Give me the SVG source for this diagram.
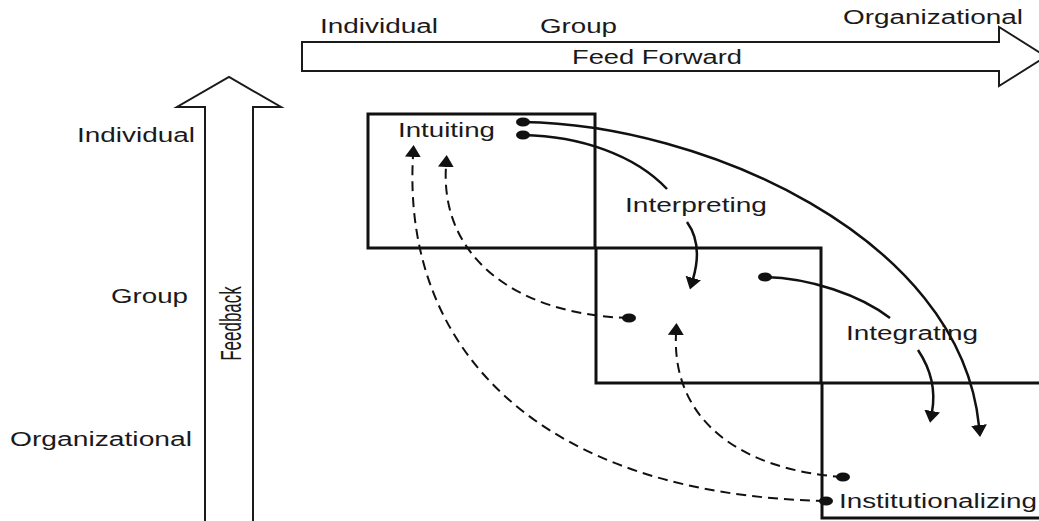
<svg xmlns="http://www.w3.org/2000/svg" width="1039" height="521" viewBox="0 0 1039 521">
  <style>
    .lbl { font-family: "Liberation Sans", Arial, sans-serif; font-size: 19.5px; fill: #1a1a1a; }
    .big { fill: #ffffff; stroke: #1a1a1a; stroke-width: 2; stroke-linejoin: miter; }
    .box { fill: none; stroke: #111111; stroke-width: 3; }
    .flow { fill: none; stroke: #111111; stroke-width: 2.5; }
    .back { fill: none; stroke: #111111; stroke-width: 2; stroke-dasharray: 10 6; }
  </style>
  <defs>
    <marker id="head" viewBox="0 0 12 16" refX="1" refY="8" markerWidth="12" markerHeight="16" markerUnits="userSpaceOnUse" orient="auto">
      <path d="M0,0 L12,8 L0,16 Z" fill="#111111"/>
    </marker>
    <marker id="dot" viewBox="-8 -5 16 10" refX="0" refY="0" markerWidth="16" markerHeight="10" markerUnits="userSpaceOnUse">
      <ellipse cx="0" cy="0" rx="7" ry="4.5" fill="#111111"/>
    </marker>
  </defs>

  <rect width="1039" height="521" fill="#ffffff"/>

  <!-- level axes -->
  <g id="feed-forward">
    <polygon class="big" points="302,42 999,42 999,27 1046,56.5 999,86 999,71 302,71"/>
    <text class="lbl" x="572" y="64" textLength="170" lengthAdjust="spacingAndGlyphs">Feed Forward</text>
    <text class="lbl" x="320" y="33" textLength="118" lengthAdjust="spacingAndGlyphs">Individual</text>
    <text class="lbl" x="540" y="33" textLength="77" lengthAdjust="spacingAndGlyphs">Group</text>
    <text class="lbl" x="843" y="24" textLength="180" lengthAdjust="spacingAndGlyphs">Organizational</text>
  </g>

  <g id="feedback">
    <polygon class="big" points="205,530 205,107 177,107 229,77 281,107 253,107 253,530"/>
    <text class="lbl" transform="translate(241,323.5) scale(1.7,1) rotate(-90)" text-anchor="middle" style="font-size:17px">Feedback</text>
    <text class="lbl" x="77" y="142" textLength="118" lengthAdjust="spacingAndGlyphs">Individual</text>
    <text class="lbl" x="111" y="303" textLength="77" lengthAdjust="spacingAndGlyphs">Group</text>
    <text class="lbl" x="10" y="446" textLength="182" lengthAdjust="spacingAndGlyphs">Organizational</text>
  </g>

  <!-- process boxes -->
  <g id="intuiting">
    <rect class="box" x="368" y="114" width="227" height="134"/>
    <text class="lbl" x="398" y="137" textLength="97" lengthAdjust="spacingAndGlyphs">Intuiting</text>
  </g>
  <g id="interpreting">
    <rect class="box" x="596" y="248" width="225" height="135"/>
    <text class="lbl" x="625" y="212" textLength="142" lengthAdjust="spacingAndGlyphs">Interpreting</text>
  </g>
  <g id="integrating">
    <rect class="box" x="822" y="383" width="240" height="135"/>
    <text class="lbl" x="846" y="340" textLength="132" lengthAdjust="spacingAndGlyphs">Integrating</text>
  </g>
  <g id="institutionalizing">
    <text class="lbl" x="839" y="508" textLength="198" lengthAdjust="spacingAndGlyphs">Institutionalizing</text>
  </g>

  <!-- learning flows -->
  <g id="connectors">
    <path class="flow" d="M523,122 C700,124 960,235 979,426" marker-start="url(#dot)" marker-end="url(#head)"/>
    <path class="flow" d="M523,135 C580,136 635,155 667,189" marker-start="url(#dot)"/>
    <path class="flow" d="M687,222 C700,240 698,262 693,279" marker-end="url(#head)"/>
    <path class="flow" d="M765,277 C810,278 860,295 890,318" marker-start="url(#dot)"/>
    <path class="flow" d="M918,350 C930,368 936,390 932,412" marker-end="url(#head)"/>
    <path class="back" d="M826,501 C540,495 402,350 413,156" marker-start="url(#dot)" marker-end="url(#head)"/>
    <path class="back" d="M629,318 C520,315 440,260 446,166" marker-start="url(#dot)" marker-end="url(#head)"/>
    <path class="back" d="M843,477 C740,470 672,420 676,334" marker-start="url(#dot)" marker-end="url(#head)"/>
  </g>
</svg>
